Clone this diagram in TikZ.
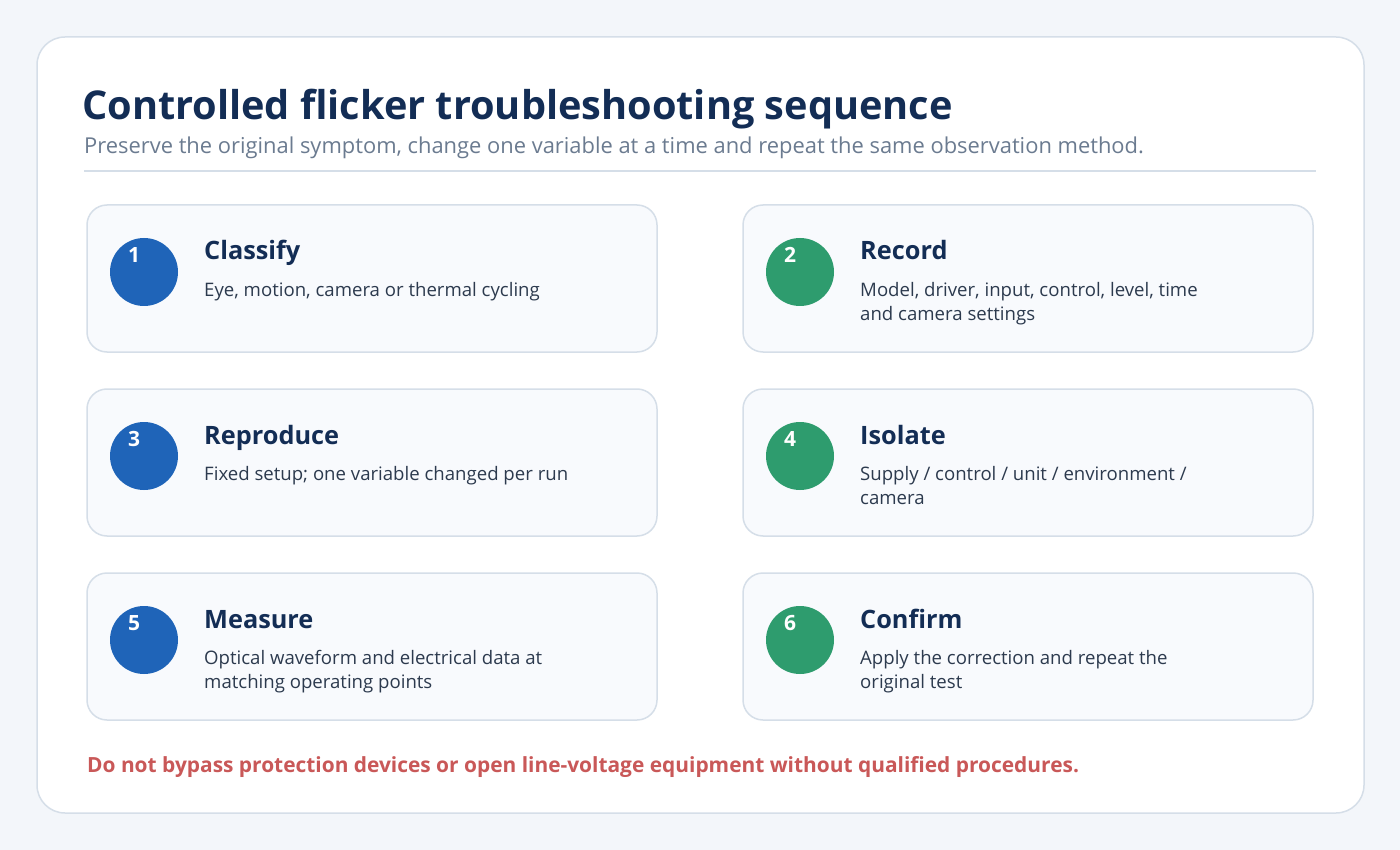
\documentclass[tikz,border=0pt]{standalone}
\usepackage{fontspec}
\setmainfont{Open Sans}
\definecolor{pagebg}{HTML}{F3F6FA}
\definecolor{cardline}{HTML}{D5DEE8}
\definecolor{cardfill}{HTML}{F8FAFD}
\definecolor{navy}{HTML}{132D55}
\definecolor{subgray}{HTML}{6B7B90}
\definecolor{bodytext}{HTML}{2C3A4E}
\definecolor{stepblue}{HTML}{1F64B8}
\definecolor{stepgreen}{HTML}{2E9C6E}
\definecolor{warnred}{HTML}{C95858}
\tikzset{
  stepcard/.style={draw=cardline, line width=1.5pt, fill=cardfill, rounded corners=20pt},
  stepdot/.style={circle, fill=#1, minimum size=68pt, inner sep=0pt},
  stepnum/.style={text=white, font=\fontsize{21}{25}\selectfont\bfseries, inner sep=0pt},
  steptitle/.style={anchor=base west, inner sep=0pt, text=navy, font=\fontsize{25.3}{30}\selectfont\bfseries},
  stepbody/.style={anchor=north west, inner sep=0pt, text=bodytext, align=left, font=\fontsize{18.6}{24.5}\selectfont},
}
\begin{document}
\begin{tikzpicture}[x=1pt,y=-1pt]
\useasboundingbox (0,0) rectangle (1400,850);
\fill[pagebg] (0,0) rectangle (1400,850);
\draw[cardline, line width=1.5pt, fill=white, rounded corners=28pt] (37,37) rectangle (1364,813);
\node[anchor=base west, inner sep=0pt, text=navy, font=\fontsize{39.7}{48}\selectfont\bfseries] (title) at (82,120) {Controlled flicker troubleshooting sequence};
\node[anchor=base west, inner sep=0pt, text=subgray, font=\fontsize{21.9}{26}\selectfont] (subtitle) at (84,154) {Preserve the original symptom, change one variable at a time and repeat the same observation method.};
\draw[cardline, line width=1.5pt] (84,171) -- (1316,171);
% cards
\foreach \x/\y/\n/\c/\t/\b [count=\i] in {
 87/205/1/stepblue/Classify/{Eye, motion, camera or thermal cycling},
 743/205/2/stepgreen/Record/{Model, driver, input, control, level, time\\and camera settings},
 87/389/3/stepblue/Reproduce/{Fixed setup; one variable changed per run},
 743/389/4/stepgreen/Isolate/{Supply / control / unit / environment /\\camera},
 87/573/5/stepblue/Measure/{Optical waveform and electrical data at\\matching operating points},
 743/573/6/stepgreen/Confirm/{Apply the correction and repeat the\\original test}}{
  \draw[stepcard] (\x,\y) rectangle ++(570,147);
  \node[stepdot=\c] (dot\i) at ({\x+57},{\y+67}) {};
  \node[stepnum] (num\i) at ({\x+47},{\y+50}) {\n};
  \node[steptitle] (ttl\i) at ({\x+117},{\y+55}) {\t};
  \node[stepbody] (bdy\i) at ({\x+117},{\y+77}) {\b};
}
\node[anchor=base west, inner sep=0pt, text=warnred, font=\fontsize{20.9}{25}\selectfont\bfseries] (warn) at (87,772) {Do not bypass protection devices or open line-voltage equipment without qualified procedures.};
\end{tikzpicture}
\end{document}
